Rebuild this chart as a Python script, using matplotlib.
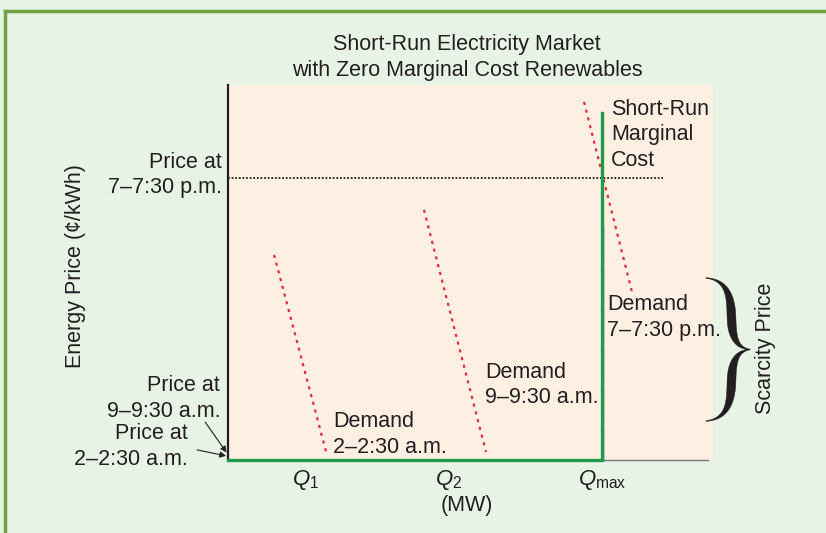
import numpy as np
import matplotlib
matplotlib.use('Agg')
import matplotlib.pyplot as plt
from matplotlib.patches import Polygon
from matplotlib.lines import Line2D

W, H = 826, 533
plt.rcParams['font.family'] = ['Liberation Sans', 'DejaVu Sans']
plt.rcParams['mathtext.fontset'] = 'custom'
plt.rcParams['mathtext.it'] = 'Liberation Sans:italic'
plt.rcParams['mathtext.rm'] = 'Liberation Sans'

# ---- data (arbitrary units, 0-100) ----
q_ticks = [15.9, 45.4, 77.1]
q_labels = [r'$Q_1$', r'$Q_2$', r'$Q_{\rm max}$']
srmc_x = [0, 77.1, 77.1]
srmc_y = [0, 0, 92.5]
peak_price = 75.2
price_line_x = [0, 89.7]
d1_x = [9.5, 20.4]; d1_y = [54.7, 1.3]
d2_x = [40.4, 53.2]; d2_y = [66.7, 2.1]
d3_x = [73.4, 83.3]; d3_y = [95.5, 44.8]

TXT = '#231f20'
RED = '#e8283c'
GRN = '#1e9a48'
FS = 15.5
LS = 1.3

fig = plt.figure(figsize=(W/100, H/100), dpi=100, facecolor='#e7f3e5')
ax = fig.add_axes([228/W, (H-460)/H, 485/W, 375/H])
ax.set_facecolor('#fdf0e3')
ax.set_xlim(0, 100)
ax.set_ylim(0, 100)
for s in ['top', 'right', 'bottom']:
    ax.spines[s].set_visible(False)
ax.spines['left'].set_color(TXT)
ax.spines['left'].set_linewidth(1.6)
ax.set_yticks([])
ax.set_xticks(q_ticks)
ax.set_xticklabels(q_labels, fontsize=FS+0.5, color=TXT)
ax.tick_params(axis='x', length=0, pad=6)

# bottom axis line
ax.plot([0, 99], [0, 0], color='#777777', lw=1.0, clip_on=False, zorder=2)
# faint dotted reference at Qmax
ax.plot([77.6, 77.6], [0, 62.7], color='#999999', lw=0.6, ls=(0, (1, 1)), zorder=2)

# price line
ax.plot(price_line_x, [peak_price, peak_price], color=TXT, lw=1.3, ls=(0, (1, 1)), zorder=3)

# demand curves
for dx, dy in [(d1_x, d1_y), (d2_x, d2_y), (d3_x, d3_y)]:
    ax.plot(dx, dy, color=RED, lw=1.6, ls=(0, (1.4, 2.2)), zorder=3)

# SRMC
ax.plot(srmc_x, srmc_y, color=GRN, lw=2.4, clip_on=False, zorder=4, solid_joinstyle='miter')

# labels inside
ax.text(21.6, 6.7, 'Demand\n2\u20132:30 a.m.', fontsize=FS, color=TXT, ha='left', va='center', linespacing=LS)
ax.text(53.0, 20.0, 'Demand\n9\u20139:30 a.m.', fontsize=FS, color=TXT, ha='left', va='center', linespacing=LS)
ax.text(78.1, 38.1, 'Demand\n7\u20137:30 p.m.', fontsize=FS, color=TXT, ha='left', va='center', linespacing=LS)
ax.text(79.0, 86.7, 'Short-Run\nMarginal\nCost', fontsize=FS, color=TXT, ha='left', va='center', linespacing=LS)

# left labels
ax.text(-1.2, 76.0, 'Price at\n7\u20137:30 p.m.', fontsize=FS, color=TXT, ha='right', va='center', multialignment='right', linespacing=LS)
ax.text(-1.6, 16.5, 'Price at\n9\u20139:30 a.m.', fontsize=FS, color=TXT, ha='right', va='center', multialignment='right', linespacing=LS)
ax.text(-8.2, 3.5, 'Price at\n2\u20132:30 a.m.', fontsize=FS, color=TXT, ha='right', va='center', multialignment='right', linespacing=LS)

ap = dict(arrowstyle='-|>', color=TXT, lw=0.8, mutation_scale=9, shrinkA=0, shrinkB=0)
ax.annotate('', xy=(-0.3, 2.0), xytext=(-4.7, 10.1), arrowprops=ap, annotation_clip=False)
ax.annotate('', xy=(-0.4, 1.1), xytext=(-6.4, 2.7), arrowprops=ap, annotation_clip=False)

# titles / axis labels
fig.text(467/W, 1-57.5/H, 'Short-Run Electricity Market\nwith Zero Marginal Cost Renewables',
         fontsize=FS, color=TXT, ha='center', va='center', linespacing=LS)
fig.text(467/W, 1-505/H, '(MW)', fontsize=FS, color=TXT, ha='center', va='center')
fig.text(75/W, 1-266/H, 'Energy Price (\u00a2/kWh)', fontsize=FS, color=TXT, ha='center', va='center', rotation=90)
fig.text(766/W, 1-348/H, 'Scarcity Price', fontsize=FS, color=TXT, ha='center', va='center', rotation=90)

# brace (pixel geometry, y down)
def bez(p0, p1, p2, p3, n=80):
    t = np.linspace(0, 1, n)[:, None]
    p0, p1, p2, p3 = map(np.array, (p0, p1, p2, p3))
    return (1-t)**3*p0 + 3*(1-t)**2*t*p1 + 3*(1-t)*t**2*p2 + t**3*p3

ytip = 349.5
a = bez((706, 278), (728, 280), (731, 298), (731.5, 318))
b = bez((731.5, 318), (732, 338), (737, 348), (750, ytip))
upper = np.vstack([a, b[1:]])
lower = upper[::-1].copy()
lower[:, 1] = 2*ytip - lower[:, 1]
center = np.vstack([upper, lower[1:]])
n_up = len(upper)
u = np.concatenate([np.linspace(0, 1, n_up), np.linspace(1, 0, n_up)[1:]])
wid = 0.8 + 8.0*np.sin(np.pi*np.clip(u, 0, 1))**1.6
d = np.gradient(center, axis=0)
nrm = np.stack([-d[:, 1], d[:, 0]], axis=1)
nrm /= np.linalg.norm(nrm, axis=1)[:, None]
left = center + nrm*wid[:, None]/2
right = center - nrm*wid[:, None]/2
poly = np.vstack([left, right[::-1]])
poly_fig = np.column_stack([poly[:, 0]/W, 1 - poly[:, 1]/H])
fig.add_artist(Polygon(poly_fig, closed=True, transform=fig.transFigure, facecolor=TXT, edgecolor=TXT, lw=0.3))

# green frame
BORDER = '#71a244'
fig.add_artist(Line2D([5/W, 1.0], [1-11/H, 1-11/H], transform=fig.transFigure, color=BORDER, lw=2.5))
fig.add_artist(Line2D([5/W, 5/W], [1-11/H, 0], transform=fig.transFigure, color=BORDER, lw=2.5))

fig.savefig('out.png', dpi=100, facecolor=fig.get_facecolor())
